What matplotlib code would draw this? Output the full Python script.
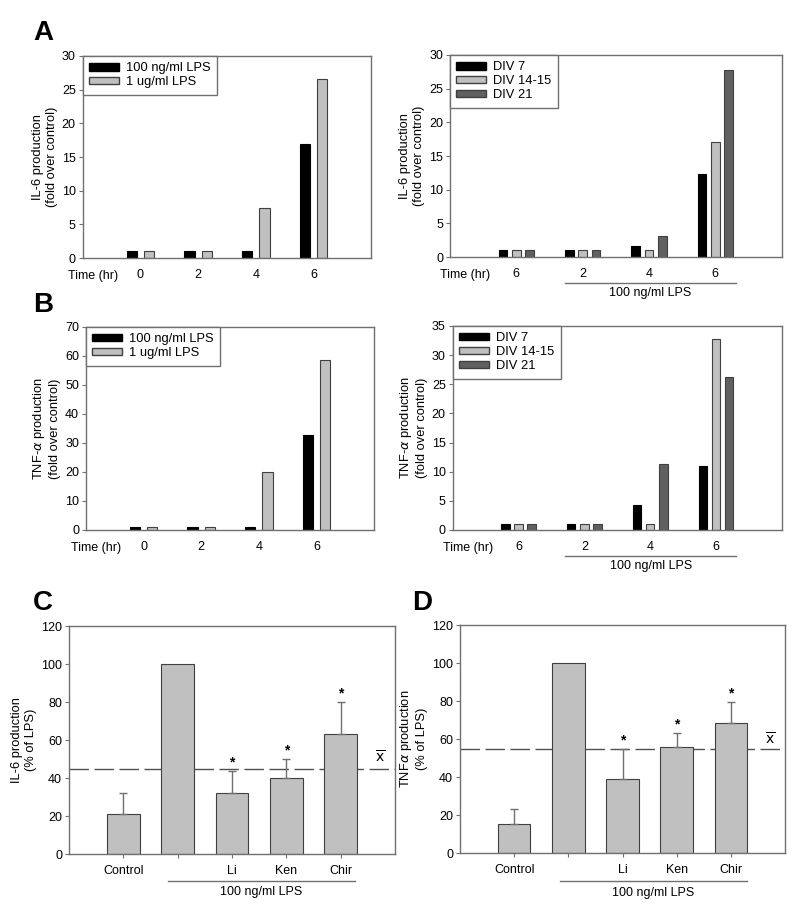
import matplotlib
matplotlib.use("Agg")
import matplotlib.pyplot as plt
from matplotlib.patches import Patch
import numpy as np

plt.rcParams['font.family'] = ['Liberation Sans', 'DejaVu Sans']

# ---- Data ----
time_labels_A = ["0", "2", "4", "6"]
il6_100ng = [1, 1, 1, 17]
il6_1ug = [1, 1, 7.5, 26.6]
tnf_100ng = [1, 1, 1, 32.7]
tnf_1ug = [1, 1, 20.1, 58.6]

time_labels_div = ["6", "2", "4", "6"]
il6_div7 = [1, 1, 1.6, 12.3]
il6_div14 = [1, 1, 1, 17.1]
il6_div21 = [1, 1, 3.1, 27.7]
tnf_div7 = [1, 1, 4.2, 11]
tnf_div14 = [1, 1, 1, 32.8]
tnf_div21 = [1, 1, 11.4, 26.2]

treat_labels = ["Control", "", "Li", "Ken", "Chir"]
il6_pct = [21, 100, 32.5, 40.3, 63]
il6_err = [11.5, 0, 11.5, 9.7, 17]
il6_sig = [False, False, True, True, True]
il6_mean = 45
tnf_pct = [15.2, 100, 39, 56, 68.6]
tnf_err = [8.3, 0, 16, 7.3, 11.1]
tnf_sig = [False, False, True, True, True]
tnf_mean = 55

BLACK = "#000000"
LGRAY = "#c0c0c0"
DGRAY = "#606060"
EDGE = "#404040"
SPINE = "#707070"
TFS = 9
LFS = 9.3

fig = plt.figure(figsize=(8, 9.15), dpi=100)

def style(ax):
    for s in ax.spines.values():
        s.set_color(SPINE)
        s.set_linewidth(1)
    ax.tick_params(axis='y', direction='out', length=3, color=SPINE, labelsize=TFS, pad=2)

def lps_line(ax, x0, x1, yl, yt):
    tr = ax.get_xaxis_transform()
    ax.plot([x0, x1], [yl, yl], transform=tr, color=SPINE, lw=1, clip_on=False)
    ax.text((x0 + x1) / 2, yt, "100 ng/ml LPS", transform=tr, ha='center', va='center', fontsize=TFS)

def time_panel(rect, series, colors, labels, ticklabels, ymax, ystep, ylabel, width, offsets, timex, lps=None):
    ax = fig.add_axes(rect)
    x = np.arange(1, len(ticklabels) + 1)
    for vals, c, lab, off in zip(series, colors, labels, offsets):
        ax.bar(x + off, vals, width=width, color=c, edgecolor=EDGE if c != BLACK else BLACK,
               linewidth=0.8, label=lab)
    ax.set_xlim(0, 5)
    ax.set_ylim(0, ymax)
    ax.set_yticks(np.arange(0, ymax + 0.1, ystep))
    ax.set_xticks(x)
    ax.set_xticklabels(ticklabels, fontsize=TFS)
    ax.tick_params(axis='x', length=0, pad=8)
    style(ax)
    ax.text(timex, -0.09, "Time (hr)", transform=ax.get_xaxis_transform(), ha='center', va='center', fontsize=TFS)
    ax.set_ylabel(ylabel, fontsize=LFS, labelpad=3)
    handles = [Patch(facecolor=c, edgecolor=EDGE if c != BLACK else BLACK, label=l) for c, l in zip(colors, labels)]
    leg = ax.legend(handles=handles, loc='upper left', bbox_to_anchor=(0, 1), borderaxespad=0,
                    fontsize=9.3, handlelength=2.3, handleheight=0.5, labelspacing=0.15,
                    handletextpad=0.55, borderpad=0.5, fancybox=False, framealpha=1)
    leg.get_frame().set_edgecolor(SPINE)
    leg.get_frame().set_linewidth(1)
    if lps:
        lps_line(ax, *lps)
    return ax

ax1 = time_panel([0.1034, 0.718, 0.3606, 0.2208], [il6_100ng, il6_1ug], [BLACK, LGRAY],
                 ["100 ng/ml LPS", "1 ug/ml LPS"], time_labels_A, 30, 5,
                 "IL-6 production\n(fold over control)", 0.18, [-0.15, 0.15], 0.18)
ax2 = time_panel([0.5625, 0.7191, 0.4146, 0.2208], [il6_div7, il6_div14, il6_div21], [BLACK, LGRAY, DGRAY],
                 ["DIV 7", "DIV 14-15", "DIV 21"], time_labels_div, 30, 5,
                 "IL-6 production\n(fold over control)", 0.13, [-0.2, 0.0, 0.2], 0.23,
                 lps=(1.73, 4.31, -0.129, -0.178))
ax3 = time_panel([0.1075, 0.4208, 0.36, 0.2219], [tnf_100ng, tnf_1ug], [BLACK, LGRAY],
                 ["100 ng/ml LPS", "1 ug/ml LPS"], time_labels_A, 70, 10,
                 "TNF-$\\alpha$ production\n(fold over control)", 0.18, [-0.15, 0.15], 0.18)
ax4 = time_panel([0.5659, 0.4208, 0.4113, 0.2230], [tnf_div7, tnf_div14, tnf_div21], [BLACK, LGRAY, DGRAY],
                 ["DIV 7", "DIV 14-15", "DIV 21"], time_labels_div, 35, 5,
                 "TNF-$\\alpha$ production\n(fold over control)", 0.13, [-0.2, 0.0, 0.2], 0.23,
                 lps=(1.71, 4.31, -0.126, -0.176))

def pct_panel(rect, vals, errs, sig, mean, ylabel, lps, xbar_y):
    ax = fig.add_axes(rect)
    x = np.arange(1, len(vals) + 1)
    ax.bar(x, vals, width=0.6, color=LGRAY, edgecolor=EDGE, linewidth=0.8, zorder=2)
    for xi, v, e, s in zip(x, vals, errs, sig):
        if e > 0:
            ax.errorbar(xi, v, yerr=[[0], [e]], fmt='none', ecolor=SPINE, elinewidth=1,
                        capsize=3, capthick=1, zorder=3)
        if s:
            ax.text(xi, v + e + 0.8, "*", ha='center', va='bottom', fontsize=10, fontweight='bold')
    ax.axhline(mean, color="#505050", lw=1, dashes=(14, 4), zorder=1)
    ax.text(5.72, xbar_y, r"$\overline{\mathrm{x}}$", ha='center', va='center', fontsize=10)
    ax.set_xlim(0, 6)
    ax.set_ylim(0, 120)
    ax.set_yticks(np.arange(0, 121, 20))
    ax.set_xticks(x)
    ax.set_xticklabels(treat_labels, fontsize=TFS)
    ax.tick_params(axis='x', direction='out', length=3, color=SPINE, pad=5)
    style(ax)
    ax.set_ylabel(ylabel, fontsize=LFS, labelpad=3)
    lps_line(ax, *lps)
    return ax

ax5 = pct_panel([0.08625, 0.0663, 0.4075, 0.2495], il6_pct, il6_err, il6_sig, il6_mean,
                "IL-6 production\n(% of LPS)", (1.82, 5.27, -0.116, -0.164), 51)
ax6 = pct_panel([0.575, 0.0674, 0.40625, 0.2495], tnf_pct, tnf_err, tnf_sig, tnf_mean,
                "TNF$\\alpha$ production\n(% of LPS)", (1.85, 5.29, -0.12, -0.172), 60)

for lab, px, py in [("A", 43, 33), ("B", 43, 305), ("C", 43, 603), ("D", 422, 603)]:
    fig.text(px / 800, 1 - py / 915, lab, fontsize=20, fontweight='bold', ha='center', va='center')

fig.savefig("out.png", dpi=100)
